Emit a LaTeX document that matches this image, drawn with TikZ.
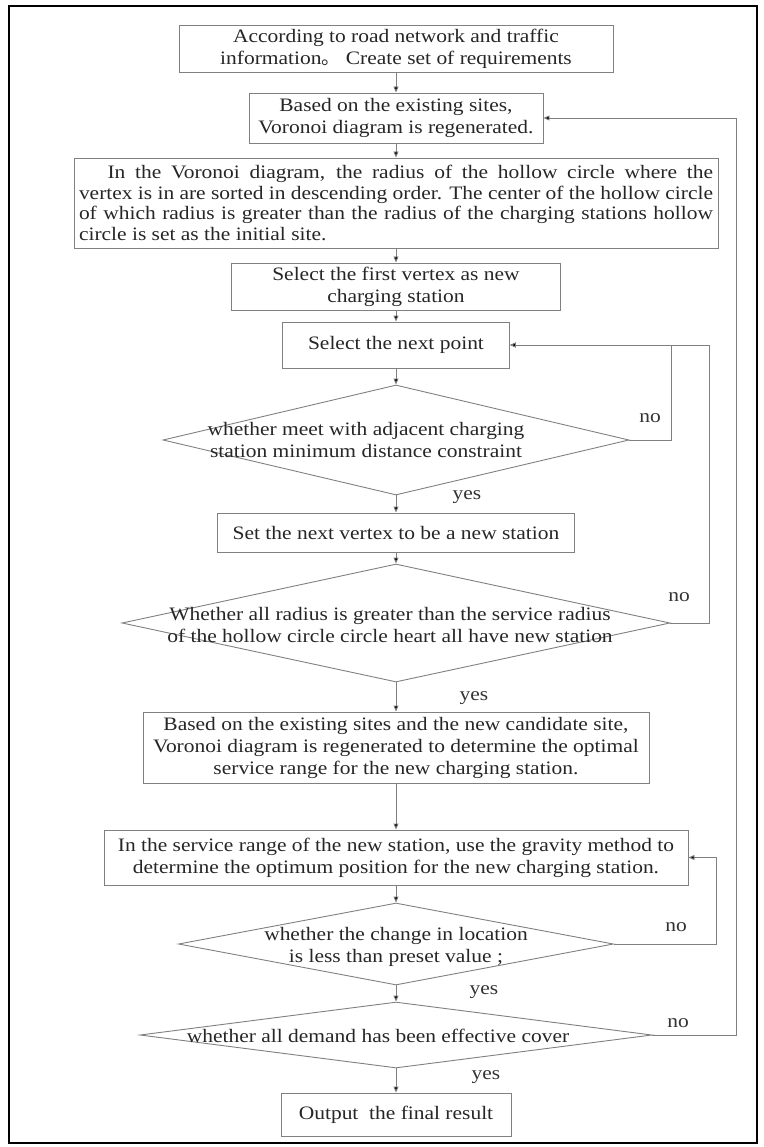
\documentclass[tikz,border=0pt]{standalone}
\usepackage{fontspec}
\setmainfont{Liberation Serif}[FakeStretch=1.13]
\newfontfamily\cjk{Noto Sans CJK SC}
\usetikzlibrary{shapes.geometric,arrows.meta,calc}
\begin{document}
\begin{tikzpicture}[x=1pt,y=-1pt,
  font=\fontsize{19}{22}\selectfont,
  line/.style={draw=black!50, line width=0.9pt},
  arr/.style={line, -{Triangle[length=6pt,width=5pt,fill=black]}},
  proc/.style={line, rectangle, align=center, inner sep=0pt, text=black!85},
  dec/.style={line, diamond, inner sep=0pt},
  dectext/.style={align=center, inner sep=0pt, text=black!85},
  lbl/.style={inner sep=0pt, text=black!80}]
\useasboundingbox (0,0) rectangle (763,1147);
\draw[black, line width=2.5pt] (9,6) rectangle (757,1143);

\node[proc, minimum width=434pt, minimum height=47pt] (b1) at (396,48.5)
  {According to road network and traffic\\information{\cjk 。} Create set of requirements};
\node[proc, minimum width=294pt, minimum height=50pt] (b2) at (396,118)
  {Based on the existing sites,\\Voronoi diagram is regenerated.};
\node[proc, minimum width=644pt, minimum height=90pt, text width=634pt, align=justify,
      font=\fontsize{19}{20.5}\selectfont] (b3) at (396,203)
  {\hspace*{1.5em}In the Voronoi diagram, the radius of the hollow circle where the\linebreak
   vertex is in are sorted in descending order. The center of the hollow circle\linebreak
   of which radius is greater than the radius of the charging stations hollow\linebreak
   circle is set as the initial site.};
\node[proc, minimum width=329pt, minimum height=47pt] (b4) at (396,286.5)
  {Select the first vertex as new\\charging station};
\node[proc, minimum width=227pt, minimum height=46pt] (b5) at (396,345)
  {Select the next point};
\node[dec, minimum width=466pt, minimum height=110pt] (d1) at (396,440) {};
\node[dectext] (d1t) at (366,440)
  {whether meet with adjacent charging\\station minimum distance constraint};
\node[proc, minimum width=357pt, minimum height=39pt] (b6) at (396,532.5)
  {Set the next vertex to be a new station};
\node[dec, minimum width=548pt, minimum height=118pt] (d2) at (396,623) {};
\node[dectext] (d2t) at (390,625)
  {Whether all radius is greater than the service radius\\of the hollow circle circle heart all have new station};
\node[proc, minimum width=506pt, minimum height=71pt] (b7) at (396,747.5)
  {Based on the existing sites and the new candidate site,\\Voronoi diagram is regenerated to determine the optimal\\service range for the new charging station.};
\node[proc, minimum width=584pt, minimum height=55pt] (b8) at (396,857.5)
  {In the service range of the new station, use the gravity method to\\determine the optimum position for the new charging station.};
\node[dec, minimum width=435pt, minimum height=82pt] (d3) at (396,944) {};
\node[dectext] (d3t) at (396,947)
  {whether the change in location\\is less than preset value ;};
\node[dec, minimum width=512pt, minimum height=66pt] (d4) at (396,1035) {};
\node[dectext] (d4t) at (378,1036)
  {whether all demand has been effective cover};
\node[proc, minimum width=230pt, minimum height=43pt] (b9) at (396,1114.5)
  {Output\ \ the final result};

\coordinate (k1) at (671,0);
\coordinate (k2) at (709,0);
\coordinate (k3) at (716,0);
\coordinate (k4) at (736,0);

\draw[arr] (b1) -- (b2);
\draw[arr] (b2) -- (b3);
\draw[arr] (b3) -- (b4);
\draw[arr] (b4) -- (b5);
\draw[arr] (b5) -- (d1);
\draw[arr] (d1) -- (b6);
\draw[arr] (b6) -- (d2);
\draw[arr] (d2) -- (b7);
\draw[arr] (b7) -- (b8);
\draw[arr] (b8) -- (d3);
\draw[arr] (d3) -- (d4);
\draw[arr] (d4) -- (b9);

\draw[arr] (d1.east) -- (d1.east -| k1) |- (b5.east);
\draw[arr] (d2.east) -- (d2.east -| k2) |- (b5.east);
\draw[arr] (d3.east) -- (d3.east -| k3) |- (b8.east);
\draw[arr] (d4.east) -- (d4.east -| k4) |- (b2.east);

\node[lbl] (n1) at (650,418) {no};
\node[lbl] (n2) at (679,597) {no};
\node[lbl] (n3) at (676,927) {no};
\node[lbl] (n4) at (678,1023) {no};
\node[lbl] (y1) at (467,497) {yes};
\node[lbl] (y2) at (474,698) {yes};
\node[lbl] (y3) at (484,992) {yes};
\node[lbl] (y4) at (486,1077) {yes};
\end{tikzpicture}
\end{document}
